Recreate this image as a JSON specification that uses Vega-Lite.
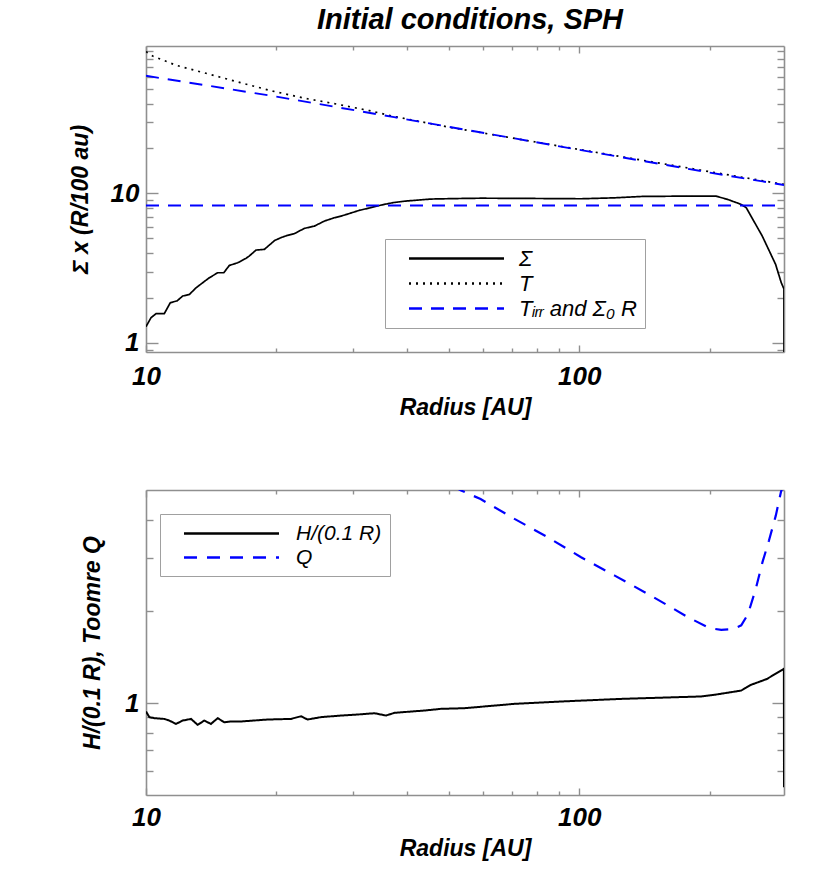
{
  "$schema": "https://vega.github.io/schema/vega-lite/v6.json",
  "padding": {"left": 69, "top": 5, "right": 5, "bottom": 5},
  "config": {
    "view": {"stroke": null},
    "font": "Liberation Sans Narrow, Liberation Sans, sans-serif",
    "axis": {
      "grid": false,
      "domainColor": "#8f8f8f",
      "domainWidth": 1.6,
      "tickColor": "#8f8f8f",
      "tickWidth": 1.4,
      "labelFont": "Liberation Sans Narrow, Liberation Sans, sans-serif",
      "labelFontSize": 26,
      "labelFontStyle": "italic",
      "labelFontWeight": "bold",
      "labelColor": "#000000",
      "labelFlush": false,
      "labelOverlap": false,
      "titleFont": "Liberation Sans Narrow, Liberation Sans, sans-serif",
      "titleFontSize": 23,
      "titleFontStyle": "italic",
      "titleFontWeight": "bold",
      "titleColor": "#000000"
    },
    "axisX": {"tickSize": {"condition": {"test": "indexof([1, 10, 100], datum.value) >= 0", "value": -7}, "value": -4}},
    "axisY": {"tickSize": {"condition": {"test": "indexof([1, 10, 100], datum.value) >= 0", "value": -12}, "value": -7}},
    "legend": {
      "orient": "none",
      "title": null,
      "symbolType": "M-4.75,0H4.75",
      "symbolSize": 400,
      "symbolStrokeWidth": 2.6,
      "symbolOffset": 52,
      "labelOffset": 51,
      "labelFont": "Liberation Sans Narrow, Liberation Sans, sans-serif",
      "labelFontSize": 22,
      "labelFontStyle": "italic",
      "labelColor": "#000000",
      "padding": 8,
      "rowPadding": 2,
      "strokeColor": "#a0a0a0",
      "fillColor": "#ffffff"
    }
  },
  "datasets": {
    "disk": [
      {"R": 10, "value": 1.285, "series": "Σ", "line": "sigma"},
      {"R": 10.27, "value": 1.476, "series": "Σ", "line": "sigma"},
      {"R": 10.55, "value": 1.57, "series": "Σ", "line": "sigma"},
      {"R": 11.02, "value": 1.57, "series": "Σ", "line": "sigma"},
      {"R": 11.38, "value": 1.86, "series": "Σ", "line": "sigma"},
      {"R": 11.79, "value": 1.91, "series": "Σ", "line": "sigma"},
      {"R": 12.15, "value": 2.06, "series": "Σ", "line": "sigma"},
      {"R": 12.59, "value": 2.11, "series": "Σ", "line": "sigma"},
      {"R": 13.05, "value": 2.34, "series": "Σ", "line": "sigma"},
      {"R": 13.52, "value": 2.53, "series": "Σ", "line": "sigma"},
      {"R": 14.0, "value": 2.73, "series": "Σ", "line": "sigma"},
      {"R": 14.64, "value": 2.95, "series": "Σ", "line": "sigma"},
      {"R": 15.12, "value": 2.95, "series": "Σ", "line": "sigma"},
      {"R": 15.57, "value": 3.3, "series": "Σ", "line": "sigma"},
      {"R": 16.28, "value": 3.44, "series": "Σ", "line": "sigma"},
      {"R": 17.01, "value": 3.68, "series": "Σ", "line": "sigma"},
      {"R": 17.3, "value": 3.81, "series": "Σ", "line": "sigma"},
      {"R": 17.94, "value": 4.18, "series": "Σ", "line": "sigma"},
      {"R": 18.76, "value": 4.23, "series": "Σ", "line": "sigma"},
      {"R": 19.82, "value": 4.85, "series": "Σ", "line": "sigma"},
      {"R": 20.48, "value": 5.06, "series": "Σ", "line": "sigma"},
      {"R": 21.23, "value": 5.25, "series": "Σ", "line": "sigma"},
      {"R": 21.98, "value": 5.38, "series": "Σ", "line": "sigma"},
      {"R": 23.2, "value": 5.84, "series": "Σ", "line": "sigma"},
      {"R": 24.47, "value": 6.05, "series": "Σ", "line": "sigma"},
      {"R": 25.82, "value": 6.54, "series": "Σ", "line": "sigma"},
      {"R": 27.2, "value": 6.88, "series": "Σ", "line": "sigma"},
      {"R": 28.2, "value": 7.06, "series": "Σ", "line": "sigma"},
      {"R": 29.2, "value": 7.28, "series": "Σ", "line": "sigma"},
      {"R": 31.0, "value": 7.7, "series": "Σ", "line": "sigma"},
      {"R": 32.8, "value": 8.0, "series": "Σ", "line": "sigma"},
      {"R": 34.9, "value": 8.37, "series": "Σ", "line": "sigma"},
      {"R": 37.3, "value": 8.7, "series": "Σ", "line": "sigma"},
      {"R": 39.8, "value": 8.9, "series": "Σ", "line": "sigma"},
      {"R": 45.5, "value": 9.18, "series": "Σ", "line": "sigma"},
      {"R": 52, "value": 9.25, "series": "Σ", "line": "sigma"},
      {"R": 59.4, "value": 9.3, "series": "Σ", "line": "sigma"},
      {"R": 70, "value": 9.28, "series": "Σ", "line": "sigma"},
      {"R": 85, "value": 9.25, "series": "Σ", "line": "sigma"},
      {"R": 101, "value": 9.22, "series": "Σ", "line": "sigma"},
      {"R": 120, "value": 9.35, "series": "Σ", "line": "sigma"},
      {"R": 139, "value": 9.55, "series": "Σ", "line": "sigma"},
      {"R": 172, "value": 9.6, "series": "Σ", "line": "sigma"},
      {"R": 207, "value": 9.6, "series": "Σ", "line": "sigma"},
      {"R": 220, "value": 9.13, "series": "Σ", "line": "sigma"},
      {"R": 236.6, "value": 8.45, "series": "Σ", "line": "sigma"},
      {"R": 243, "value": 8.03, "series": "Σ", "line": "sigma"},
      {"R": 264.6, "value": 5.19, "series": "Σ", "line": "sigma"},
      {"R": 284, "value": 3.36, "series": "Σ", "line": "sigma"},
      {"R": 292.7, "value": 2.53, "series": "Σ", "line": "sigma"},
      {"R": 296.9, "value": 2.3, "series": "Σ", "line": "sigma"},
      {"R": 297, "value": 0.8, "series": "Σ", "line": "sigma"},
      {"R": 10, "value": 89, "series": "T", "line": "temp"},
      {"R": 10.36, "value": 83.2, "series": "T", "line": "temp"},
      {"R": 11.73, "value": 72.1, "series": "T", "line": "temp"},
      {"R": 14.0, "value": 62.8, "series": "T", "line": "temp"},
      {"R": 16.5, "value": 55.2, "series": "T", "line": "temp"},
      {"R": 19.5, "value": 48.6, "series": "T", "line": "temp"},
      {"R": 23.2, "value": 43.4, "series": "T", "line": "temp"},
      {"R": 27.6, "value": 39.6, "series": "T", "line": "temp"},
      {"R": 32.8, "value": 35.8, "series": "T", "line": "temp"},
      {"R": 37.5, "value": 32.7, "series": "T", "line": "temp"},
      {"R": 50, "value": 27.8, "series": "T", "line": "temp"},
      {"R": 100, "value": 19.7, "series": "T", "line": "temp"},
      {"R": 200, "value": 14.0, "series": "T", "line": "temp"},
      {"R": 297, "value": 11.5, "series": "T", "line": "temp"},
      {"R": 10, "value": 61.3, "series": "Tᵢᵣᵣ and Σ₀ R", "line": "tirr"},
      {"R": 20, "value": 44.5, "series": "Tᵢᵣᵣ and Σ₀ R", "line": "tirr"},
      {"R": 37.4, "value": 32.4, "series": "Tᵢᵣᵣ and Σ₀ R", "line": "tirr"},
      {"R": 100, "value": 19.6, "series": "Tᵢᵣᵣ and Σ₀ R", "line": "tirr"},
      {"R": 200, "value": 13.8, "series": "Tᵢᵣᵣ and Σ₀ R", "line": "tirr"},
      {"R": 297, "value": 11.4, "series": "Tᵢᵣᵣ and Σ₀ R", "line": "tirr"},
      {"R": 10, "value": 8.32, "series": "Tᵢᵣᵣ and Σ₀ R", "line": "sigma0"},
      {"R": 297, "value": 8.32, "series": "Tᵢᵣᵣ and Σ₀ R", "line": "sigma0"}
    ],
    "stability": [
      {"R": 10, "value": 0.939, "quantity": "H/(0.1 R)"},
      {"R": 10.18, "value": 0.9, "quantity": "H/(0.1 R)"},
      {"R": 10.45, "value": 0.893, "quantity": "H/(0.1 R)"},
      {"R": 11.02, "value": 0.888, "quantity": "H/(0.1 R)"},
      {"R": 11.32, "value": 0.877, "quantity": "H/(0.1 R)"},
      {"R": 11.73, "value": 0.855, "quantity": "H/(0.1 R)"},
      {"R": 12.15, "value": 0.877, "quantity": "H/(0.1 R)"},
      {"R": 12.7, "value": 0.888, "quantity": "H/(0.1 R)"},
      {"R": 13.16, "value": 0.849, "quantity": "H/(0.1 R)"},
      {"R": 13.63, "value": 0.877, "quantity": "H/(0.1 R)"},
      {"R": 14.12, "value": 0.855, "quantity": "H/(0.1 R)"},
      {"R": 14.64, "value": 0.893, "quantity": "H/(0.1 R)"},
      {"R": 15.16, "value": 0.866, "quantity": "H/(0.1 R)"},
      {"R": 15.71, "value": 0.871, "quantity": "H/(0.1 R)"},
      {"R": 16.56, "value": 0.871, "quantity": "H/(0.1 R)"},
      {"R": 19.09, "value": 0.884, "quantity": "H/(0.1 R)"},
      {"R": 21.6, "value": 0.888, "quantity": "H/(0.1 R)"},
      {"R": 22.8, "value": 0.906, "quantity": "H/(0.1 R)"},
      {"R": 23.6, "value": 0.884, "quantity": "H/(0.1 R)"},
      {"R": 25.35, "value": 0.9, "quantity": "H/(0.1 R)"},
      {"R": 28.2, "value": 0.911, "quantity": "H/(0.1 R)"},
      {"R": 30.8, "value": 0.918, "quantity": "H/(0.1 R)"},
      {"R": 33.7, "value": 0.927, "quantity": "H/(0.1 R)"},
      {"R": 35.8, "value": 0.911, "quantity": "H/(0.1 R)"},
      {"R": 37.5, "value": 0.93, "quantity": "H/(0.1 R)"},
      {"R": 43.9, "value": 0.946, "quantity": "H/(0.1 R)"},
      {"R": 47.9, "value": 0.958, "quantity": "H/(0.1 R)"},
      {"R": 54.4, "value": 0.963, "quantity": "H/(0.1 R)"},
      {"R": 70.9, "value": 0.995, "quantity": "H/(0.1 R)"},
      {"R": 91, "value": 1.013, "quantity": "H/(0.1 R)"},
      {"R": 125, "value": 1.033, "quantity": "H/(0.1 R)"},
      {"R": 190.9, "value": 1.052, "quantity": "H/(0.1 R)"},
      {"R": 205, "value": 1.065, "quantity": "H/(0.1 R)"},
      {"R": 236.6, "value": 1.1, "quantity": "H/(0.1 R)"},
      {"R": 249, "value": 1.148, "quantity": "H/(0.1 R)"},
      {"R": 271, "value": 1.2, "quantity": "H/(0.1 R)"},
      {"R": 296.8, "value": 1.296, "quantity": "H/(0.1 R)"},
      {"R": 297, "value": 0.53, "quantity": "H/(0.1 R)"},
      {"R": 46, "value": 5.6, "quantity": "Q"},
      {"R": 53.4, "value": 4.98, "quantity": "Q"},
      {"R": 59.2, "value": 4.67, "quantity": "Q"},
      {"R": 70.9, "value": 4.02, "quantity": "Q"},
      {"R": 84.6, "value": 3.5, "quantity": "Q"},
      {"R": 101, "value": 3.01, "quantity": "Q"},
      {"R": 120.8, "value": 2.62, "quantity": "Q"},
      {"R": 144.1, "value": 2.28, "quantity": "Q"},
      {"R": 160.3, "value": 2.09, "quantity": "Q"},
      {"R": 178.2, "value": 1.914, "quantity": "Q"},
      {"R": 200, "value": 1.762, "quantity": "Q"},
      {"R": 212.8, "value": 1.74, "quantity": "Q"},
      {"R": 226.5, "value": 1.75, "quantity": "Q"},
      {"R": 236.6, "value": 1.8, "quantity": "Q"},
      {"R": 245.3, "value": 1.96, "quantity": "Q"},
      {"R": 255.6, "value": 2.37, "quantity": "Q"},
      {"R": 264.9, "value": 2.9, "quantity": "Q"},
      {"R": 274.3, "value": 3.42, "quantity": "Q"},
      {"R": 284.3, "value": 4.12, "quantity": "Q"},
      {"R": 292.2, "value": 4.92, "quantity": "Q"},
      {"R": 297, "value": 5.3, "quantity": "Q"}
    ]
  },
  "spacing": 70,
  "resolve": {"scale": {"x": "independent", "y": "independent", "color": "independent", "strokeDash": "independent"}, "legend": {"color": "independent", "strokeDash": "independent"}},
  "vconcat": [
    {
      "width": 638,
      "height": 306,
      "title": {"text": "Initial conditions, SPH", "font": "Liberation Sans Narrow, Liberation Sans, sans-serif", "fontSize": 29, "fontStyle": "italic", "fontWeight": "bold", "color": "#000000", "anchor": "middle", "offset": 3, "dx": 5},
      "data": {"name": "disk"},
      "resolve": {"axis": {"x": "independent", "y": "independent"}},
      "layer": [
        {
          "transform": [{"filter": "datum.line === 'sigma' || datum.line === 'temp'"}],
          "mark": {"type": "line", "clip": true, "strokeWidth": 1.7},
          "encoding": {
            "x": {"field": "R", "type": "quantitative", "scale": {"type": "log", "domain": [10, 297], "nice": false},
              "axis": {"orient": "bottom", "title": "Radius [AU]", "values": [10, 20, 30, 40, 50, 60, 70, 80, 90, 100, 200],
                "labelExpr": "indexof([1, 10, 100], datum.value) >= 0 ? format(datum.value, 'd') : ''",
                "labelPadding": 18, "titlePadding": 4}},
            "y": {"field": "value", "type": "quantitative", "scale": {"type": "log", "domain": [0.87, 97], "nice": false},
              "axis": {"orient": "left", "title": "Σ x (R/100 au)", "values": [0.9, 1, 2, 3, 4, 5, 6, 7, 8, 9, 10, 20, 30, 40, 50, 60, 70, 80, 90],
                "labelExpr": "indexof([1, 10, 100], datum.value) >= 0 ? format(datum.value, 'd') : ''",
                "labelPadding": 19, "titlePadding": 18}},
            "color": {"field": "series", "type": "nominal",
              "scale": {"domain": ["Σ", "T", "Tᵢᵣᵣ and Σ₀ R"], "range": ["#000000", "#000000", "#0000ff"]},
              "legend": {"legendX": 239, "legendY": 193}},
            "strokeDash": {"field": "series", "type": "nominal",
              "scale": {"domain": ["Σ", "T", "Tᵢᵣᵣ and Σ₀ R"], "range": [[1, 0], [2, 5], [13, 9]]}},
            "detail": {"field": "line"}
          }
        },
        {
          "transform": [{"filter": "datum.line === 'tirr' || datum.line === 'sigma0'"}],
          "mark": {"type": "line", "clip": true, "strokeWidth": 1.9},
          "encoding": {
            "x": {"field": "R", "type": "quantitative", "scale": {"type": "log", "domain": [10, 297], "nice": false},
              "axis": {"orient": "top", "title": null, "labels": false, "values": [10, 20, 30, 40, 50, 60, 70, 80, 90, 100, 200]}},
            "y": {"field": "value", "type": "quantitative", "scale": {"type": "log", "domain": [0.87, 97], "nice": false},
              "axis": {"orient": "right", "title": null, "labels": false, "values": [0.9, 1, 2, 3, 4, 5, 6, 7, 8, 9, 10, 20, 30, 40, 50, 60, 70, 80, 90]}},
            "color": {"field": "series", "type": "nominal"},
            "strokeDash": {"field": "series", "type": "nominal"},
            "detail": {"field": "line"}
          }
        }
      ]
    },
    {
      "width": 638,
      "height": 305,
      "data": {"name": "stability"},
      "resolve": {"axis": {"x": "independent", "y": "independent"}},
      "layer": [
        {
          "transform": [{"filter": "datum.quantity === 'H/(0.1 R)'"}],
          "mark": {"type": "line", "clip": true, "strokeWidth": 2},
          "encoding": {
            "x": {"field": "R", "type": "quantitative", "scale": {"type": "log", "domain": [10, 297], "nice": false},
              "axis": {"orient": "bottom", "title": "Radius [AU]", "values": [10, 20, 30, 40, 50, 60, 70, 80, 90, 100, 200],
                "labelExpr": "indexof([1, 10, 100], datum.value) >= 0 ? format(datum.value, 'd') : ''",
                "labelPadding": 16, "titlePadding": 4}},
            "y": {"field": "value", "type": "quantitative", "scale": {"type": "log", "domain": [0.5, 5], "nice": false},
              "axis": {"orient": "left", "title": "H/(0.1 R), Toomre Q", "values": [0.6, 0.7, 0.8, 0.9, 1, 2, 3, 4],
                "labelExpr": "indexof([1, 10, 100], datum.value) >= 0 ? format(datum.value, 'd') : ''",
                "labelPadding": 19, "titlePadding": 20}},
            "color": {"field": "quantity", "type": "nominal",
              "scale": {"domain": ["H/(0.1 R)", "Q"], "range": ["#000000", "#0000ff"]},
              "legend": {"legendX": 14, "legendY": 24, "labelOffset": 53, "labelFontSize": 21}},
            "strokeDash": {"field": "quantity", "type": "nominal",
              "scale": {"domain": ["H/(0.1 R)", "Q"], "range": [[1, 0], [13, 10]]}}
          }
        },
        {
          "transform": [{"filter": "datum.quantity === 'Q'"}],
          "mark": {"type": "line", "clip": true, "strokeWidth": 2.2},
          "encoding": {
            "x": {"field": "R", "type": "quantitative", "scale": {"type": "log", "domain": [10, 297], "nice": false},
              "axis": {"orient": "top", "title": null, "labels": false, "values": [10, 20, 30, 40, 50, 60, 70, 80, 90, 100, 200]}},
            "y": {"field": "value", "type": "quantitative", "scale": {"type": "log", "domain": [0.5, 5], "nice": false},
              "axis": {"orient": "right", "title": null, "labels": false, "values": [0.6, 0.7, 0.8, 0.9, 1, 2, 3, 4]}},
            "color": {"field": "quantity", "type": "nominal"},
            "strokeDash": {"field": "quantity", "type": "nominal"}
          }
        }
      ]
    }
  ]
}
